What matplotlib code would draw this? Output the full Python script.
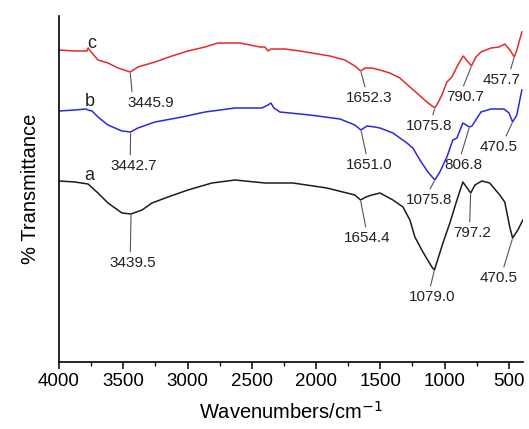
import numpy as np
import matplotlib.pyplot as plt
from matplotlib.ticker import MultipleLocator

plt.rcParams['font.family'] = ['Liberation Sans', 'DejaVu Sans']

# Spectra (wavenumber in cm^-1, transmittance in arbitrary offset units)
wn_c = [4000, 3876, 3782, 3774, 3743, 3697, 3619, 3541, 3446, 3386, 3253, 3121, 2997, 2864, 2763, 2631,
        2592, 2437, 2398, 2374, 2351, 2242, 2126, 1892, 1776, 1698, 1652, 1620, 1566, 1503, 1426, 1348,
        1270, 1216, 1138, 1076, 1052, 1021, 982, 943, 897, 855, 791, 756, 717, 639, 577, 531, 492,
        458, 438, 399]
tr_c = [312, 311, 311, 314, 309, 302, 299, 294, 290, 295, 300, 306, 311, 315, 319, 319,
        319, 315, 315, 311, 313, 313, 311, 306, 302, 296, 291, 294, 294, 292, 289, 284,
        275, 269, 260, 254, 259, 267, 280, 285, 297, 306, 296, 305, 310, 314, 315, 318, 312,
        305, 312, 330]

wn_b = [4000, 3876, 3790, 3774, 3743, 3697, 3619, 3510, 3443, 3386, 3253, 3043, 2864, 2631, 2421, 2374,
        2351, 2328, 2281, 2048, 1814, 1698, 1651, 1604, 1542, 1503, 1402, 1293, 1247, 1192, 1130,
        1076, 1037, 982, 936, 904, 858, 807, 787, 717, 639, 538, 499, 471, 438, 399]
tr_b = [251, 252, 253, 252, 251, 245, 237, 231, 230, 234, 240, 245, 250, 254, 254, 257,
        259, 254, 250, 247, 243, 237, 232, 236, 235, 234, 229, 219, 214, 202, 190,
        182, 190, 205, 222, 224, 239, 235, 236, 250, 253, 253, 249, 240, 247, 272]

wn_a = [4000, 3876, 3774, 3697, 3619, 3510, 3440, 3354, 3277, 3152, 2997, 2810, 2631, 2398, 2180, 1916,
        1698, 1654, 1612, 1566, 1503, 1402, 1324, 1270, 1231, 1169, 1099, 1079, 1013, 959, 904, 858,
        797, 764, 710, 649, 571, 532, 493, 471, 430, 391]
tr_a = [181, 180, 178, 169, 159, 149, 148, 152, 159, 165, 172, 179, 182, 179, 179, 174,
        167, 162, 165, 167, 169, 162, 155, 142, 125, 110, 95, 92, 119, 139, 162, 180,
        169, 177, 181, 179, 167, 160, 135, 124, 132, 142]

# peak labels: (wavenumber, transmittance) of peak, label position, where the leader meets the label
peaks_c = [(3445.9, 290, 3284, 259, 0.10), (1652.3, 291, 1589, 264, 0.44), (1075.8, 254, 1122, 236, 0.56),
           (790.7, 296, 842, 265, 0.42), (457.7, 305, 554, 282, 0.70)]
peaks_b = [(3442.7, 230, 3417, 196, 0.42), (1651.0, 232, 1589, 197, 0.46), (1075.8, 182, 1122, 162, 0.48),
           (806.8, 235, 850, 197, 0.40), (470.5, 240, 578, 215, 0.64)]
peaks_a = [(3439.5, 148, 3424, 99, 0.44), (1654.4, 162, 1604, 124, 0.49), (1079.0, 92, 1099, 65, 0.45),
           (797.2, 169, 788, 129, 0.44), (470.5, 124, 578, 84, 0.60)]

fig = plt.figure(figsize=(5.29, 4.29), dpi=100)
ax = fig.add_axes([59/529, 1-362/429, 464/529, 346/429])

ax.plot(wn_c, tr_c, color='#e52a2a', lw=1.1)
ax.plot(wn_b, tr_b, color='#2a2ae0', lw=1.1)
ax.plot(wn_a, tr_a, color='#1c1c1c', lw=1.1)

for peaks in (peaks_c, peaks_b, peaks_a):
    for w, t, lw_, lt, rp in peaks:
        ax.annotate('%.1f' % w, xy=(w, t), xytext=(lw_, lt), ha='center', va='center', fontsize=11,
                    color='#222222',
                    arrowprops=dict(arrowstyle='-', color='#555555', lw=0.8, shrinkA=1, shrinkB=1,
                                    relpos=(rp, 1.0)))

ax.text(3743, 318, 'c', fontsize=13, ha='center', va='center', color='#222222')
ax.text(3759, 261, 'b', fontsize=13, ha='center', va='center', color='#222222')
ax.text(3767, 187, 'a', fontsize=13, ha='center', va='center', color='#222222')

ax.set_xlim(4000, 390)
ax.set_ylim(0, 346)
ax.xaxis.set_major_locator(MultipleLocator(500))
ax.xaxis.set_minor_locator(MultipleLocator(250))
ax.tick_params(axis='x', which='major', direction='out', length=5, width=1.1, labelsize=13.5, pad=3)
ax.tick_params(axis='x', which='minor', direction='out', length=3, width=1.0)
ax.set_yticks([])
for s in ('top', 'right'):
    ax.spines[s].set_visible(False)
for s in ('left', 'bottom'):
    ax.spines[s].set_linewidth(1.2)

ax.set_xlabel('Wavenumbers/cm$^{-1}$', fontsize=14.5, labelpad=8)
ax.set_ylabel('% Transmittance', fontsize=14.5, labelpad=14)

fig.savefig('out.png', dpi=100)
